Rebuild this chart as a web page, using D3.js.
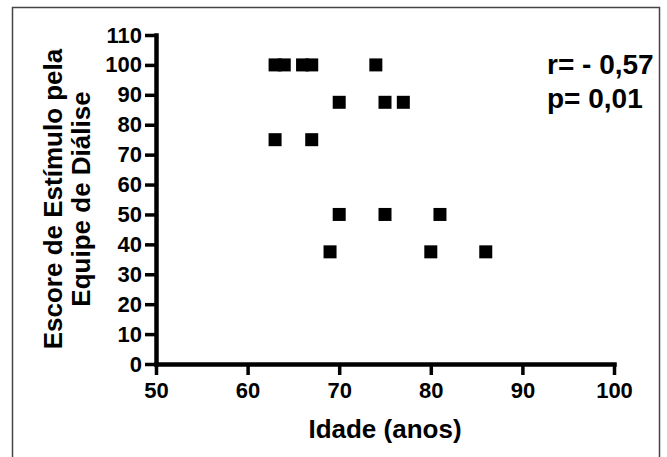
<!DOCTYPE html>
<html>
<head>
<meta charset="utf-8">
<script src="https://cdn.jsdelivr.net/npm/d3@7"></script>
<style>
  body { margin: 0; background: #fff; }
  text { font-family: "Liberation Sans", Arial, sans-serif; font-weight: bold; fill: #000; }
</style>
</head>
<body>
<div id="chart-area"></div>
<script>
// idade (anos) x escore de estimulo
let idade = [63, 64, 66, 67, 74, 70, 75, 77, 63, 67, 70, 75, 81, 69, 80, 86];
let escore = [100, 100, 100, 100, 100, 87.5, 87.5, 87.5, 75, 75, 50, 50, 50, 37.5, 37.5, 37.5];
let xTicks = [50, 60, 70, 80, 90, 100];
let yTicks = [0, 10, 20, 30, 40, 50, 60, 70, 80, 90, 100, 110];
let stats = ["r= - 0,57", "p= 0,01"];

let svg = d3.select('#chart-area')
            .append('svg')
            .attr('width', 667)
            .attr('height', 457);

svg.append('rect')
    .attr('width', 667).attr('height', 457)
    .attr('fill', '#fff');

// frame round the figure
svg.append('rect')
    .attr('x', 12.5).attr('y', 7.5)
    .attr('width', 647).attr('height', 470)
    .attr('fill', 'none')
    .attr('stroke', '#444')
    .attr('stroke-width', 1.5);

let x = d3.scaleLinear()
        .domain([50, 100])
        .range([156, 614]);

let y = d3.scaleLinear()
        .domain([0, 110])
        .range([364, 35]);

let xAxis = svg.append('g')
    .attr('transform', 'translate(0,' + y(0) + ')')
    .call(d3.axisBottom(x).tickValues(xTicks).tickSize(11).tickSizeOuter(0).tickPadding(7));

let yAxis = svg.append('g')
    .attr('transform', 'translate(' + x(50) + ',0)')
    .call(d3.axisLeft(y).tickValues(yTicks).tickSize(11).tickSizeOuter(0).tickPadding(3));

[xAxis, yAxis].forEach(function(g){
    g.select('.domain')
        .attr('stroke', '#000')
        .attr('stroke-width', 4.5)
        .attr('stroke-linecap', 'square');
    g.selectAll('.tick line')
        .attr('stroke', '#000')
        .attr('stroke-width', 3.5);
    g.selectAll('.tick text')
        .attr('font-size', 22)
        .attr('font-family', '"Liberation Sans", Arial, sans-serif')
        .attr('font-weight', 'bold')
        .attr('fill', '#000');
});

let size = 13;
svg.selectAll('rect.pt')
    .data(idade)
    .enter()
    .append('rect')
    .attr('class', 'pt')
    .attr('x', function(d){ return x(d) - size / 2; })
    .attr('y', function(d, i){ return y(escore[i]) - size / 2; })
    .attr('width', size)
    .attr('height', size)
    .attr('fill', '#000');

// axis titles
svg.append('text')
    .attr('x', 385).attr('y', 438)
    .attr('text-anchor', 'middle')
    .attr('font-size', 26)
    .text('Idade (anos)');

let yTitle = svg.append('text')
    .attr('transform', 'translate(62,199) rotate(-90)')
    .attr('text-anchor', 'middle')
    .attr('font-size', 26);
yTitle.append('tspan').attr('x', 0).attr('dy', 0).text('Escore de  Estímulo pela');
yTitle.append('tspan').attr('x', 0).attr('dy', 28).text('Equipe de Diálise');

svg.selectAll('text.stat')
    .data(stats)
    .enter()
    .append('text')
    .attr('class', 'stat')
    .attr('x', 547)
    .attr('y', function(d, i){ return 74 + i * 34; })
    .attr('font-size', 28)
    .text(function(d){ return d; });
</script>
</body>
</html>
